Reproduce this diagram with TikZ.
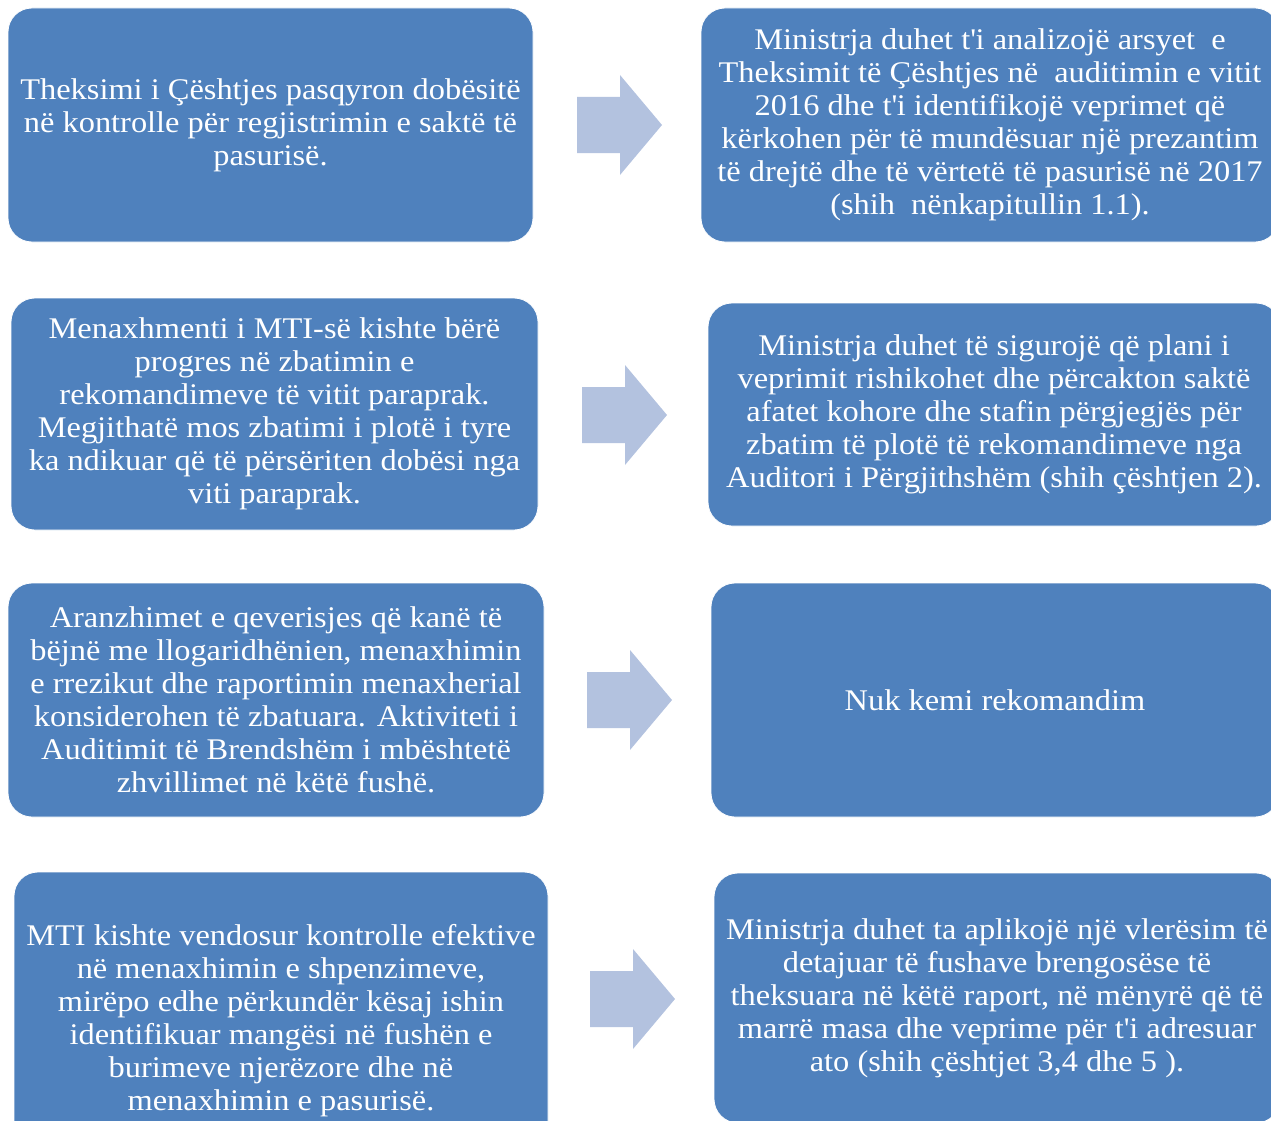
\documentclass[tikz,border=0pt]{standalone}
\usepackage{fontspec}
\setmainfont{Liberation Serif}[FakeStretch=1.08]
\definecolor{boxblue}{RGB}{79,129,189}
\definecolor{arrowblue}{RGB}{179,194,223}
\tikzset{
  box/.style={fill=boxblue, draw=white, line width=0.8pt, rounded corners=24pt,
    text=white, align=center, inner sep=0pt,
    font=\fontsize{30}{33}\selectfont},
  blockarrow/.style={fill=arrowblue, draw=none}
}
\newcommand{\blockarr}[2]{% name, left-middle coordinate
  \coordinate (#1) at #2;
  \fill[blockarrow] (#1) ++(0,-28) -- ++(43,0) -- ++(0,-22) -- ++(42,50) -- ++(-42,50) -- ++(0,-22) -- ++(-43,0) -- cycle;
}
\begin{document}
\begin{tikzpicture}[x=1pt,y=-1pt]
\useasboundingbox (0,0) rectangle (1271,1121);
\clip (0,0) rectangle (1271,1121);
% row 1
\node[box, minimum width=525pt, minimum height=234pt] (b1l) at (270.5,125)
 {Theksimi i Çështjes pasqyron dobësitë\\në kontrolle për regjistrimin e saktë të\\pasurisë.};
\node[box, minimum width=578pt, minimum height=234pt] (b1r) at (990,125)
 {Ministrja duhet t\textquotesingle i analizojë arsyet\ \ e\\Theksimit të Çështjes në\ \ auditimin e vitit\\2016 dhe t\textquotesingle i identifikojë veprimet që\\kërkohen për të mundësuar një prezantim\\të drejtë dhe të vërtetë të pasurisë në 2017\\(shih\ \ nënkapitullin 1.1).};
\blockarr{a1}{(577,125)}
% row 2
\node[box, minimum width=527pt, minimum height=232pt] (b2l) at (274.5,414)
 {Menaxhmenti i MTI-së kishte bërë\\progres në zbatimin e\\rekomandimeve të vitit paraprak.\\Megjithatë mos zbatimi i plotë i tyre\\ka ndikuar që të përsëriten dobësi nga\\viti paraprak.};
\node[box, minimum width=572pt, minimum height=223pt] (b2r) at (994,414.5)
 {Ministrja duhet të sigurojë që plani i\\veprimit rishikohet dhe përcakton saktë\\afatet kohore dhe stafin përgjegjës për\\zbatim të plotë të rekomandimeve nga\\Auditori i Përgjithshëm (shih çështjen 2).};
\blockarr{a2}{(582,415)}
% row 3
\node[box, minimum width=536pt, minimum height=234pt] (b3l) at (276,700)
 {Aranzhimet e qeverisjes që kanë të\\bëjnë me llogaridhënien, menaxhimin\\e rrezikut dhe raportimin menaxherial\\konsiderohen të zbatuara. Aktiviteti i\\Auditimit të Brendshëm i mbështetë\\zhvillimet në këtë fushë.};
\node[box, minimum width=568pt, minimum height=234pt] (b3r) at (995,700)
 {Nuk kemi rekomandim};
\blockarr{a3}{(587,700)}
% row 4
\node[box, minimum width=534pt, minimum height=298pt] (b4l) at (281,1021)
 {MTI kishte vendosur kontrolle efektive\\në menaxhimin e shpenzimeve,\\mirëpo edhe përkundër kësaj ishin\\identifikuar mangësi në fushën e\\burimeve njerëzore dhe në\\menaxhimin e pasurisë.};
\node[box, minimum width=566pt, minimum height=250pt] (b4r) at (997,998)
 {Ministrja duhet ta aplikojë një vlerësim të\\detajuar të fushave brengosëse të\\theksuara në këtë raport, në mënyrë që të\\marrë masa dhe veprime për t\textquotesingle i adresuar\\ato (shih çështjet 3,4 dhe 5 ).};
\blockarr{a4}{(590,999)}
\end{tikzpicture}
\end{document}
